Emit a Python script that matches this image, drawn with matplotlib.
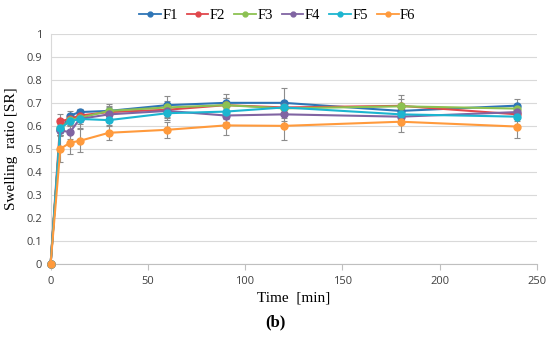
import matplotlib
matplotlib.use('Agg')
import matplotlib.pyplot as plt
from matplotlib.lines import Line2D

# Time points [min]
time = [0, 5, 10, 15, 30, 60, 90, 120, 180, 240]

# Swelling ratio for each formulation
f1 = [0, 0.58, 0.645, 0.66, 0.665, 0.69, 0.70, 0.70, 0.665, 0.688]
f2 = [0, 0.62, 0.63, 0.645, 0.66, 0.67, 0.69, 0.68, 0.687, 0.65]
f3 = [0, 0.59, 0.625, 0.635, 0.665, 0.68, 0.69, 0.676, 0.685, 0.675]
f4 = [0, 0.58, 0.573, 0.63, 0.65, 0.665, 0.645, 0.65, 0.64, 0.66]
f5 = [0, 0.59, 0.62, 0.63, 0.625, 0.655, 0.662, 0.68, 0.65, 0.64]
f6 = [0, 0.50, 0.527, 0.535, 0.57, 0.583, 0.602, 0.60, 0.618, 0.597]

# Standard deviations (error bars)
e1 = [0, 0.02, 0.02, 0.015, 0.02, 0.04, 0.04, 0.065, 0.03, 0.03]
e2 = [0, 0.03, 0.02, 0.02, 0.02, 0.03, 0.03, 0.03, 0.045, 0.02]
e3 = [0, 0.02, 0.02, 0.02, 0.03, 0.03, 0.03, 0.03, 0.03, 0.02]
e4 = [0, 0.02, 0.03, 0.04, 0.02, 0.03, 0.03, 0.03, 0.03, 0.02]
e5 = [0, 0.03, 0.02, 0.02, 0.02, 0.03, 0.03, 0.03, 0.03, 0.02]
e6 = [0, 0.055, 0.05, 0.05, 0.03, 0.035, 0.04, 0.06, 0.045, 0.05]

labels = ['F1', 'F2', 'F3', 'F4', 'F5', 'F6']
colors = ['#2E75B6', '#E0474C', '#8CC152', '#8064A2', '#1CB5D0', '#FF9A3C']
series = [f1, f2, f3, f4, f5, f6]
errors = [e1, e2, e3, e4, e5, e6]

fig = plt.figure(figsize=(5.5, 3.38), dpi=100)
ax = fig.add_axes([0.092, 0.219, 0.884, 0.681])

handles = []
for y, err, c, lab in zip(series, errors, colors, labels):
    eb = ax.errorbar(time, y, yerr=err, color=c, ecolor='#8c8c8c', elinewidth=0.8,
                     capsize=2, capthick=0.8, marker='o', markersize=5,
                     linewidth=1.5, zorder=3)
    eb[0].set_clip_on(False)
    handles.append(Line2D([], [], color=c, marker='o', markersize=3.5, linewidth=1.3, label=lab))

ax.set_xlim(0, 250)
ax.set_ylim(0, 1)
ax.set_xticks([0, 50, 100, 150, 200, 250])
ax.set_yticks([i / 10 for i in range(11)])
ax.set_yticklabels(['0', '0.1', '0.2', '0.3', '0.4', '0.5', '0.6', '0.7', '0.8', '0.9', '1'])
ax.grid(axis='y', color='#d9d9d9', linewidth=0.8)
ax.set_axisbelow(True)

for s in ['top', 'right']:
    ax.spines[s].set_visible(False)
ax.spines['left'].set_color('#d9d9d9')
ax.spines['bottom'].set_color('#bfbfbf')
ax.tick_params(axis='y', length=0, labelsize=8, colors='#404040', pad=6)
ax.tick_params(axis='x', length=4, color='#bfbfbf', labelsize=8, colors='#404040', pad=5)
for t in ax.get_xticklabels() + ax.get_yticklabels():
    t.set_family('Open Sans')

ax.set_xlabel('Time  [min]', family='Liberation Serif', fontsize=11, labelpad=3)
ax.set_ylabel('Swelling  ratio [SR]', family='Liberation Serif', fontsize=11, labelpad=6)

ax.legend(handles=handles, loc='upper center', bbox_to_anchor=(0.466, 1.165), ncol=6,
          frameon=False, prop={'family': 'Liberation Serif', 'size': 10.5},
          handlelength=1.5, columnspacing=0.6, handletextpad=0.1)

fig.text(0.5, 0.035, '(b)', ha='center', family='Liberation Serif', fontsize=12, fontweight='bold')

fig.savefig('out.png', dpi=100)
